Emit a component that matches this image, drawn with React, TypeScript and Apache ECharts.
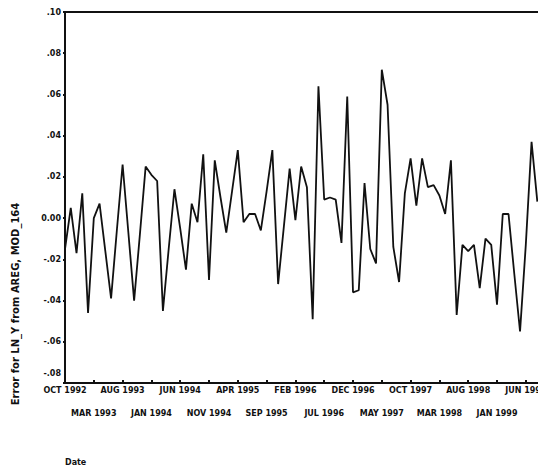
import React, { useEffect, useRef } from "react";
import * as echarts from "echarts";

// Monthly errors, OCT 1992 .. AUG 1999
const startYear = 1992;
const startMonth = 9; // October (0-based)
const monthNames = ["JAN", "FEB", "MAR", "APR", "MAY", "JUN", "JUL", "AUG", "SEP", "OCT", "NOV", "DEC"];

const errorValues = [
  -0.015, 0.005, -0.017, 0.012, -0.046, 0.0, 0.007, -0.016, -0.039, -0.006,
  0.026, -0.007, -0.040, -0.008, 0.025, 0.021, 0.018, -0.045, -0.015, 0.014,
  -0.005, -0.025, 0.007, -0.002, 0.031, -0.030, 0.028, 0.010, -0.007, 0.013,
  0.033, -0.002, 0.002, 0.002, -0.006, 0.013, 0.033, -0.032, -0.004, 0.024,
  -0.001, 0.025, 0.015, -0.049, 0.064, 0.009, 0.010, 0.009, -0.012, 0.059,
  -0.036, -0.035, 0.017, -0.015, -0.022, 0.072, 0.055, -0.014, -0.031, 0.012,
  0.029, 0.006, 0.029, 0.015, 0.016, 0.011, 0.002, 0.028, -0.047, -0.013,
  -0.016, -0.013, -0.034, -0.010, -0.013, -0.042, 0.002, 0.002, -0.027, -0.055,
  -0.013, 0.037, 0.008,
];

// one extra category past the data so the plot runs off the right edge
const categoryCount = errorValues.length + 1;
const categories: string[] = [];
for (let i = 0; i < categoryCount; i++) {
  const m = (startMonth + i) % 12;
  const y = startYear + Math.floor((startMonth + i) / 12);
  categories.push(monthNames[m] + " " + y);
}

const yAxisTitle = "Error for LN_Y from AREG, MOD_164";
const xAxisTitle = "Date";

function fmtY(v: number): string {
  if (Math.abs(v + 0.08) < 1e-9) return "{lo|-.08}";
  if (Math.abs(v) < 1e-9) return "0.00";
  const s = Math.abs(v).toFixed(2).replace(/^0/, "");
  return (v < 0 ? "-" : "") + s;
}

export default function App() {
  const ref = useRef<HTMLDivElement>(null);
  useEffect(() => {
    if (!ref.current) return;
    const chart = echarts.init(ref.current, undefined, { renderer: "svg" });
    const font = "DejaVu Sans";
    const labelBase = {
      margin: 3,
      fontFamily: font,
      fontWeight: "bold",
      fontSize: 8,
      color: "#111",
      hideOverlap: false,
      showMinLabel: true,
    };
    chart.setOption({
      animation: false,
      backgroundColor: "#ffffff",
      grid: {
        left: 65,
        top: 12,
        width: 5.76 * (categoryCount - 1),
        bottom: 88,
        show: true,
        borderColor: "#111",
        borderWidth: 2,
        backgroundColor: "transparent",
      },
      xAxis: [
        {
          type: "category",
          data: categories,
          boundaryGap: false,
          axisLine: { show: true, onZero: false, lineStyle: { color: "#111", width: 2 } },
          axisTick: { show: true, inside: true, length: 3, interval: 4, lineStyle: { color: "#111", width: 2 } },
          axisLabel: { ...labelBase, interval: (idx: number) => idx % 10 === 0 },
          splitLine: { show: false },
        },
        {
          type: "category",
          data: categories,
          boundaryGap: false,
          position: "bottom",
          offset: 23,
          axisLine: { show: false, onZero: false },
          axisTick: { show: false },
          axisLabel: { ...labelBase, interval: (idx: number) => idx % 10 === 5 },
          splitLine: { show: false },
        },
      ],
      yAxis: {
        type: "value",
        min: -0.08,
        max: 0.1,
        interval: 0.02,
        axisLine: { show: true, lineStyle: { color: "#111", width: 2 } },
        axisTick: { show: true, length: 2, lineStyle: { color: "#111", width: 2 } },
        axisLabel: {
          margin: 4,
          fontFamily: font,
          fontWeight: "bold",
          fontSize: 8,
          color: "#111",
          formatter: fmtY,
          rich: {
            lo: {
              fontFamily: font,
              fontWeight: "bold",
              fontSize: 8,
              color: "#111",
              padding: [0, 0, 20, 0],
            },
          },
        },
        splitLine: { show: false },
      },
      graphic: [
        {
          type: "text",
          x: 15,
          y: 304,
          rotation: Math.PI / 2,
          style: {
            text: yAxisTitle,
            fill: "#111",
            font: "bold 10px 'DejaVu Sans'",
            align: "center",
            verticalAlign: "middle",
          },
        },
        {
          type: "text",
          x: 65,
          y: 462,
          style: {
            text: xAxisTitle,
            fill: "#111",
            font: "bold 8px 'DejaVu Sans'",
            align: "left",
            verticalAlign: "middle",
          },
        },
      ],
      series: [
        {
          type: "line",
          data: errorValues,
          showSymbol: false,
          symbol: "none",
          lineStyle: { color: "#111", width: 1.8 },
        },
      ],
    });
    return () => chart.dispose();
  }, []);
  return (
    <div style={{ position: "fixed", left: 0, top: 0, width: 538, height: 471, overflow: "hidden", background: "#fff" }}>
      <div ref={ref} style={{ width: 580, height: 471 }} />
    </div>
  );
}
